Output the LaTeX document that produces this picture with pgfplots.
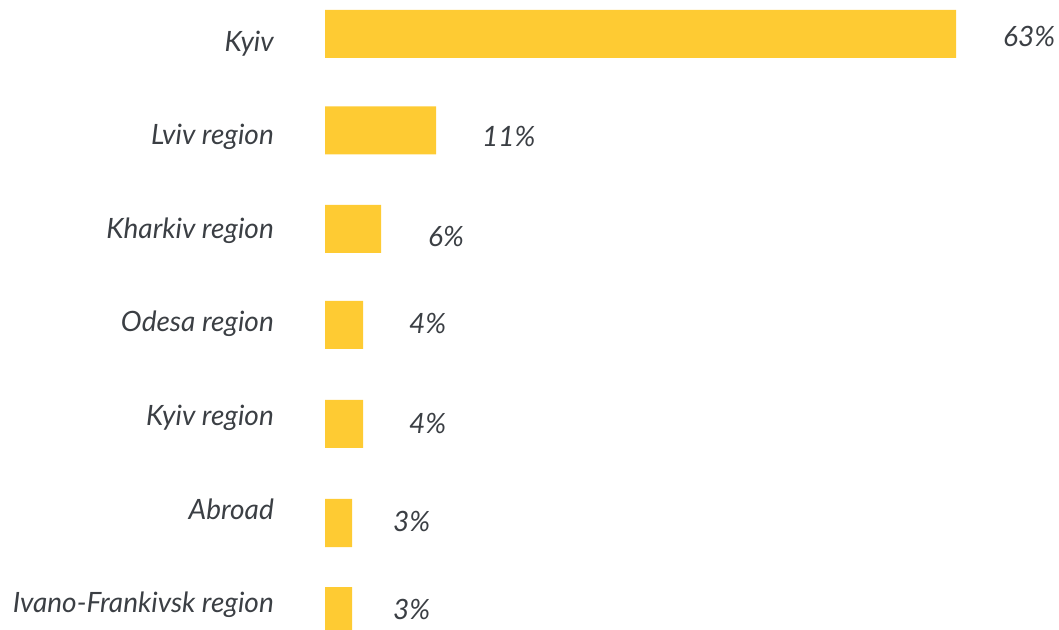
\documentclass[border=0pt]{standalone}
\usepackage{fontspec}
\setmainfont{Lato}
\usepackage{pgfplots}
\pgfplotsset{compat=1.18}
\definecolor{barc}{HTML}{FECB33}
\definecolor{txt}{HTML}{3B3F44}
\begin{document}
\begin{tikzpicture}[x=1pt,y=1pt]
\useasboundingbox (0,0) rectangle (1059,629);
\begin{axis}[at={(325pt,0pt)}, anchor=south west, scale only axis,
  width=631pt, height=629pt, xmin=0, xmax=63, ymin=-629, ymax=0,
  axis lines=none, clip=false]
\addplot[xbar, bar width=48pt, fill=barc, draw=none] coordinates {
  (63,-34) (11.1,-130.5) (5.6,-229) (3.8,-325) (3.8,-424) (2.7,-523) (2.7,-611)};
% category labels
\addplot[draw=none, mark=none, nodes near coords, point meta=explicit symbolic,
  every node near coord/.append style={anchor=base east, inner sep=0pt,
  font=\fontsize{28}{30}\selectfont\itshape, text=txt}] coordinates {
  (-5.09,-52) [Kyiv]
  (-5.09,-145) [Lviv region]
  (-5.09,-239) [Kharkiv region]
  (-5.09,-332) [Odesa region]
  (-5.09,-426) [Kyiv region]
  (-5.09,-519) [Abroad]
  (-5.09,-612) [Ivano-Frankivsk region]};
% value labels
\addplot[draw=none, mark=none, nodes near coords, point meta=explicit symbolic,
  every node near coord/.append style={anchor=base west, inner sep=0pt,
  font=\fontsize{28}{30}\selectfont\itshape, text=txt}] coordinates {
  (67.69,-47) [63\%]
  (15.67,-147) [11\%]
  (10.28,-247) [6\%]
  (8.39,-334) [4\%]
  (8.39,-434) [4\%]
  (6.79,-531) [3\%]
  (6.79,-619) [3\%]};
\end{axis}
\end{tikzpicture}
\end{document}
